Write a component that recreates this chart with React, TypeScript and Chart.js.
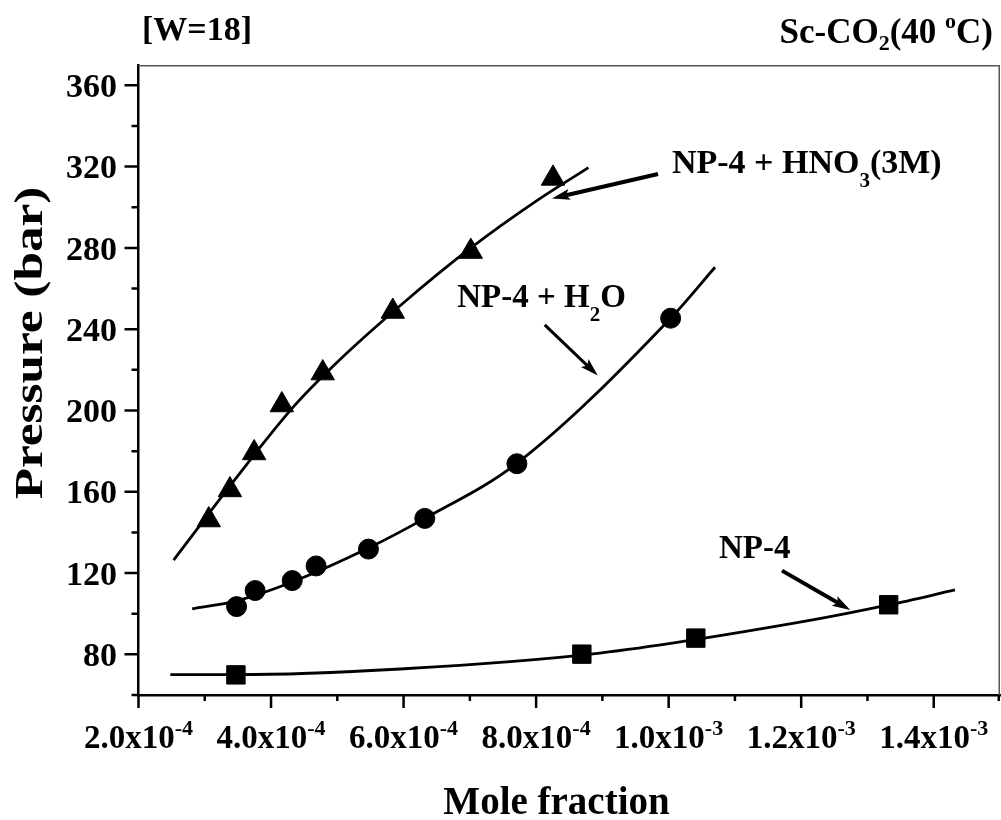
import React, { useEffect, useRef } from "react";
import { Chart, registerables } from "chart.js";

Chart.register(...registerables);

const FONT = '"Liberation Serif", "Times New Roman", serif';

// ---------- data (mole fraction, pressure in bar) ----------
// NP-4 (squares)
const np4X = [3.47e-4, 8.69e-4, 1.041e-3, 1.332e-3];
const np4P = [69.9, 80.1, 88.0, 104.4];
const np4CurveX = [2.48e-4, 3.47e-4, 5.95e-4, 8.96e-4, 1.198e-3, 1.332e-3, 1.432e-3];
const np4CurveP = [70.0, 70.0, 72.8, 80.6, 95.8, 104.3, 111.7];

// NP-4 + H2O (circles)
const h2oX = [3.48e-4, 3.76e-4, 4.32e-4, 4.68e-4, 5.47e-4, 6.32e-4, 7.71e-4, 1.003e-3];
const h2oP = [103.5, 111.4, 116.3, 123.5, 131.8, 146.9, 173.8, 245.4];
const h2oCurveX = [2.81e-4, 3.48e-4, 4.32e-4, 5.47e-4, 6.32e-4, 7.71e-4, 1.003e-3, 1.07e-3];
const h2oCurveP = [102.4, 106.3, 115.6, 132.3, 146.9, 174.0, 245.4, 270.5];

// NP-4 + HNO3(3M) (triangles)
const hno3X = [3.06e-4, 3.38e-4, 3.745e-4, 4.163e-4, 4.78e-4, 5.837e-4, 7.014e-4, 8.255e-4];
const hno3P = [146.1, 160.9, 179.1, 202.7, 218.4, 248.7, 278.2, 314.2];
const hno3CurveX = [2.53e-4, 2.93e-4, 3.43e-4, 4.34e-4, 4.99e-4, 6.0e-4, 7.0e-4, 8.0e-4, 8.79e-4];
const hno3CurveP = [126.4, 143.6, 165.0, 201.9, 223.5, 253.0, 279.6, 303.0, 319.5];

// ---------- axes ----------
const xMin = 2e-4;
const xMax = 1.5e-3;
const yMin = 60;
const yMax = 370;
const xMajorTicks = [2e-4, 4e-4, 6e-4, 8e-4, 1.0e-3, 1.2e-3, 1.4e-3];
const xMajorBase = ["2.0x10", "4.0x10", "6.0x10", "8.0x10", "1.0x10", "1.2x10", "1.4x10"];
const xMajorExp = ["-4", "-4", "-4", "-4", "-3", "-3", "-3"];
const xMinorTicks = [3e-4, 5e-4, 7e-4, 9e-4, 1.1e-3, 1.3e-3, 1.5e-3];
const yMajorTicks = [80, 120, 160, 200, 240, 280, 320, 360];
const yMajorLabels = ["80", "120", "160", "200", "240", "280", "320", "360"];
const yMinorTicks = [60, 100, 140, 180, 220, 260, 300, 340];

const xTitle = "Mole fraction";
const yTitle = "Pressure (bar)";

type Seg = { t: string; kind?: "n" | "sub" | "sup"; dy?: number };

// annotations: label anchors and arrows, in data coordinates
const labels: { x: number; y: number; size: number; segs: Seg[] }[] = [
  { x: 1.005e-3, y: 316.9, size: 34, segs: [{ t: "NP-4 + HNO" }, { t: "3", kind: "sub", dy: 14 }, { t: "(3M)" }] },
  { x: 6.81e-4, y: 250.9, size: 33, segs: [{ t: "NP-4 + H" }, { t: "2", kind: "sub", dy: 14 }, { t: "O" }] },
  { x: 1.076e-3, y: 127.4, size: 33, segs: [{ t: "NP-4" }] },
];
const arrows = [
  { x1: 9.84e-4, y1: 316.4, x2: 8.24e-4, y2: 304.3, w: 4 },
  { x1: 8.13e-4, y1: 242.1, x2: 8.93e-4, y2: 217.2, w: 3 },
  { x1: 1.171e-3, y1: 121.2, x2: 1.274e-3, y2: 101.8, w: 4 },
];

const zip = (xs: number[], ys: number[]) => xs.map((x, i) => ({ x, y: ys[i] }));

function drawSegs(ctx: CanvasRenderingContext2D, x: number, y: number, segs: Seg[], size: number, subSize: number, measureOnly = false) {
  let cx = x;
  for (const s of segs) {
    const k = s.kind || "n";
    const fs = k === "n" ? size : subSize;
    ctx.font = `bold ${fs}px ${FONT}`;
    const dy = k === "sub" ? s.dy || 0 : k === "sup" ? -(s.dy || 0) : 0;
    if (!measureOnly) ctx.fillText(s.t, cx, y + dy);
    cx += ctx.measureText(s.t).width;
  }
  return cx - x;
}

const decor = {
  id: "decor",
  afterDraw(chart: any) {
    const ctx: CanvasRenderingContext2D = chart.ctx;
    const { left, right, top, bottom } = chart.chartArea;
    const xs = chart.scales.x;
    const ys = chart.scales.y;
    ctx.save();
    ctx.fillStyle = "#000";
    ctx.textAlign = "left";
    ctx.textBaseline = "alphabetic";

    // frame top & right
    ctx.strokeStyle = "#555";
    ctx.lineWidth = 1.5;
    ctx.beginPath();
    ctx.moveTo(left, top + 0.75);
    ctx.lineTo(right - 0.75, top + 0.75);
    ctx.lineTo(right - 0.75, bottom);
    ctx.stroke();

    // tick marks
    ctx.strokeStyle = "#000";
    ctx.lineWidth = 2.5;
    ctx.beginPath();
    for (const v of yMajorTicks) {
      const p = ys.getPixelForValue(v);
      ctx.moveTo(left - 14, p);
      ctx.lineTo(left, p);
    }
    for (const v of yMinorTicks) {
      const p = ys.getPixelForValue(v);
      ctx.moveTo(left - 7, p);
      ctx.lineTo(left, p);
    }
    for (const v of xMajorTicks) {
      const p = xs.getPixelForValue(v);
      ctx.moveTo(p, bottom);
      ctx.lineTo(p, bottom + 13);
    }
    for (const v of xMinorTicks) {
      const p = Math.min(xs.getPixelForValue(v), right - 1.25);
      ctx.moveTo(p, bottom);
      ctx.lineTo(p, bottom + 6);
    }
    ctx.stroke();

    // y tick labels
    ctx.font = `bold 34px ${FONT}`;
    ctx.textAlign = "right";
    yMajorTicks.forEach((v, i) => {
      const p = ys.getPixelForValue(v);
      ctx.fillText(yMajorLabels[i], left - 21.5, p + 11.7);
    });
    ctx.textAlign = "left";

    // x tick labels with superscript exponent
    xMajorTicks.forEach((v, i) => {
      const p = xs.getPixelForValue(v);
      const segs: Seg[] = [{ t: xMajorBase[i] }, { t: xMajorExp[i], kind: "sup", dy: 13 }];
      const w = drawSegs(ctx, 0, 0, segs, 33, 22, true);
      drawSegs(ctx, p - w / 2, bottom + 53, segs, 33, 22);
    });

    // axis titles
    ctx.font = `bold 39px ${FONT}`;
    ctx.textAlign = "center";
    ctx.fillText(xTitle, 556.5, 814);
    ctx.save();
    ctx.translate(42, 343);
    ctx.rotate(-Math.PI / 2);
    ctx.scale(1.25, 1);
    ctx.font = `bold 41px ${FONT}`;
    ctx.fillText(yTitle, 0, 0);
    ctx.restore();
    ctx.textAlign = "left";

    // top titles
    ctx.font = `bold 34px ${FONT}`;
    ctx.fillText("[W=18]", left + 3.5, top - 25);
    const tSegs: Seg[] = [
      { t: "Sc-CO" },
      { t: "2", kind: "sub", dy: 7 },
      { t: "(40 " },
      { t: "o", kind: "sup", dy: 15 },
      { t: "C)" },
    ];
    const tw = drawSegs(ctx, 0, 0, tSegs, 35, 22, true);
    drawSegs(ctx, right - 7 - tw, top - 22, tSegs, 35, 22);

    // annotation labels
    for (const l of labels) {
      drawSegs(ctx, xs.getPixelForValue(l.x), ys.getPixelForValue(l.y), l.segs, l.size, 21);
    }

    // arrows
    for (const a of arrows) {
      const x1 = xs.getPixelForValue(a.x1), y1 = ys.getPixelForValue(a.y1);
      const x2 = xs.getPixelForValue(a.x2), y2 = ys.getPixelForValue(a.y2);
      const ang = Math.atan2(y2 - y1, x2 - x1);
      const L = 18, H = 5.5;
      const bx = x2 - Math.cos(ang) * L * 0.8, by = y2 - Math.sin(ang) * L * 0.8;
      ctx.lineWidth = a.w;
      ctx.lineCap = "butt";
      ctx.beginPath();
      ctx.moveTo(x1, y1);
      ctx.lineTo(bx, by);
      ctx.stroke();
      const hx = x2 - Math.cos(ang) * L, hy = y2 - Math.sin(ang) * L;
      ctx.beginPath();
      ctx.moveTo(x2, y2);
      ctx.lineTo(hx - Math.sin(ang) * H, hy + Math.cos(ang) * H);
      ctx.lineTo(bx, by);
      ctx.lineTo(hx + Math.sin(ang) * H, hy - Math.cos(ang) * H);
      ctx.closePath();
      ctx.fill();
    }
    ctx.restore();
  },
};

export default function App() {
  const ref = useRef<HTMLCanvasElement>(null);
  useEffect(() => {
    const curve = (xs: number[], ys: number[]) => ({
      data: zip(xs, ys),
      showLine: true,
      borderColor: "#000",
      borderWidth: 2.8,
      pointRadius: 0,
      cubicInterpolationMode: "monotone" as const,
      fill: false,
      order: 2,
    });
    const marks = (xs: number[], ys: number[], style: string, r: number) => ({
      data: zip(xs, ys),
      showLine: false,
      pointStyle: style,
      pointRadius: r,
      pointBackgroundColor: "#000",
      pointBorderColor: "#000",
      pointBorderWidth: 1,
      order: 1,
    });
    const chart = new Chart(ref.current!, {
      type: "scatter",
      data: {
        datasets: [
          curve(np4CurveX, np4CurveP),
          curve(h2oCurveX, h2oCurveP),
          curve(hno3CurveX, hno3CurveP),
          marks(np4X, np4P, "rect", 13),
          marks(h2oX, h2oP, "circle", 10),
          marks(hno3X, hno3P, "triangle", 13.5),
        ] as any,
      },
      options: {
        responsive: false,
        animation: false,
        devicePixelRatio: 1,
        events: [],
        layout: { autoPadding: false, padding: { top: 65, right: 1, bottom: 0, left: 0 } },
        plugins: { legend: { display: false }, tooltip: { enabled: false }, title: { display: false } },
        scales: {
          x: {
            type: "linear",
            min: xMin,
            max: xMax,
            grid: { display: false, drawTicks: false },
            border: { display: true, color: "#000", width: 2.5 },
            ticks: { display: false },
            afterFit: (s: any) => {
              s.height = 125;
            },
          },
          y: {
            type: "linear",
            min: yMin,
            max: yMax,
            grid: { display: false, drawTicks: false },
            border: { display: true, color: "#000", width: 2.5 },
            ticks: { display: false },
            afterFit: (s: any) => {
              s.width = 138.5;
            },
          },
        },
      } as any,
      plugins: [decor],
    });
    return () => chart.destroy();
  }, []);
  return (
    <div style={{ position: "fixed", left: 0, top: 0, width: 1001, height: 820, background: "#fff" }}>
      <canvas ref={ref} width={1001} height={820} style={{ display: "block", width: 1001, height: 820 }} />
    </div>
  );
}
